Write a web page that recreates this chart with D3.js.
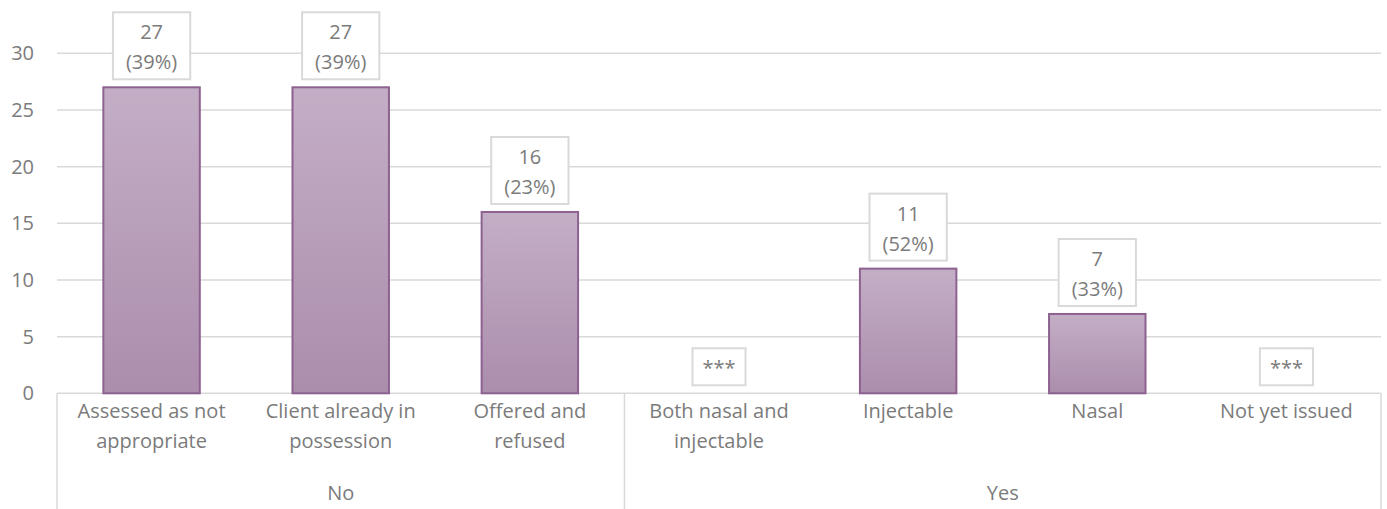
<!DOCTYPE html>
<html>
<head>
<meta charset="utf-8">
<script src="https://cdn.jsdelivr.net/npm/d3@7"></script>
<style>
  html, body { margin: 0; padding: 0; background: #ffffff; }
  svg { display: block; }
  text { font-family: "Open Sans", Lato, sans-serif; fill: #7b7b7b; }
</style>
</head>
<body>
<svg id="chart" width="1387" height="509"></svg>
<script>
// Naloxone issue outcome, grouped by whether naloxone was issued
const categories = [
  "Assessed as not appropriate",
  "Client already in possession",
  "Offered and refused",
  "Both nasal and injectable",
  "Injectable",
  "Nasal",
  "Not yet issued"
];
const groups = ["No", "No", "No", "Yes", "Yes", "Yes", "Yes"];
const counts = [27, 27, 16, 0, 11, 7, 0];
const percents = [39, 39, 23, null, 52, 33, null];
const suppressed = [false, false, false, true, false, false, true];
const yTicks = [0, 5, 10, 15, 20, 25, 30];

const svg = d3.select("#chart");
const fontSize = 20;
const lineH = 30;
const plotLeft = 57, plotRight = 1381;
const yZero = 393.3, yTop = 53.3;

const x = d3.scaleBand()
  .domain(categories)
  .range([plotLeft, plotRight])
  .paddingInner(0.49)
  .paddingOuter(0.245);

const y = d3.scaleLinear().domain([0, 30]).range([yZero, yTop]);

// gradient for the bars
const defs = svg.append("defs");
const grad = defs.append("linearGradient")
  .attr("id", "barFill").attr("x1", 0).attr("y1", 0).attr("x2", 0).attr("y2", 1);
grad.append("stop").attr("offset", "0%").attr("stop-color", "#c4aec6");
grad.append("stop").attr("offset", "100%").attr("stop-color", "#ab8dac");

// horizontal gridlines
svg.append("g").selectAll("line")
  .data(yTicks)
  .join("line")
  .attr("x1", plotLeft).attr("x2", plotRight)
  .attr("y1", d => y(d)).attr("y2", d => y(d))
  .attr("stroke", "#d9d9d9").attr("stroke-width", 1.5);

// y axis labels
const yAxis = svg.append("g")
  .attr("transform", `translate(${plotLeft - 12},0)`)
  .call(d3.axisLeft(y).tickValues(yTicks).tickSize(0).tickPadding(11));
yAxis.select(".domain").remove();
yAxis.selectAll("text")
  .attr("font-size", fontSize)
  .style("font-family", "'Open Sans', Lato, sans-serif")
  .attr("fill", "#7b7b7b");

// bars
svg.append("g").selectAll("rect")
  .data(counts.map((v, i) => ({ v, c: categories[i] })))
  .join("rect")
  .filter(d => d.v > 0)
  .attr("x", d => x(d.c))
  .attr("y", d => y(d.v))
  .attr("width", x.bandwidth())
  .attr("height", d => y(0) - y(d.v))
  .attr("fill", "url(#barFill)")
  .attr("stroke", "#8d6190")
  .attr("stroke-width", 2);

// value labels in boxes
const labels = svg.append("g");
counts.forEach((v, i) => {
  const lines = suppressed[i] ? ["***"] : [String(v), `(${percents[i]}%)`];
  const cx = x(categories[i]) + x.bandwidth() / 2;
  const boxH = lines.length * lineH + 7;
  const boxBottom = y(v) - 8;
  const boxTop = boxBottom - boxH;
  const g = labels.append("g");
  const rect = g.append("rect");
  const t = g.append("text")
    .attr("text-anchor", "middle")
    .attr("font-size", fontSize);
  lines.forEach((s, k) => {
    t.append("tspan").attr("x", cx).attr("y", boxTop + 27 + k * lineH).text(s);
  });
  const tw = t.node().getBBox().width;
  const w = tw + (lines.length > 1 ? 26 : 20);
  rect.attr("x", cx - w / 2).attr("y", boxTop)
    .attr("width", w).attr("height", boxH)
    .attr("fill", "#ffffff").attr("stroke", "#d9d9d9").attr("stroke-width", 2);
});

// category axis: wrapped labels
const catG = svg.append("g");
categories.forEach(c => {
  const cx = x(c) + x.bandwidth() / 2;
  const t = catG.append("text").attr("text-anchor", "middle").attr("font-size", fontSize);
  const words = c.split(" ");
  let lines = [], cur = [];
  const probe = catG.append("text").attr("font-size", fontSize);
  words.forEach(wd => {
    const trial = cur.concat(wd).join(" ");
    probe.text(trial);
    if (cur.length && probe.node().getComputedTextLength() > 168) {
      lines.push(cur.join(" "));
      cur = [wd];
    } else cur.push(wd);
  });
  lines.push(cur.join(" "));
  probe.remove();
  lines.forEach((s, k) => {
    t.append("tspan").attr("x", cx).attr("y", 418 + k * lineH).text(s);
  });
});

// group dividers and group labels
const groupNames = Array.from(new Set(groups));
const bounds = [plotLeft];
groupNames.forEach(gn => {
  const last = groups.lastIndexOf(gn);
  bounds.push(x(categories[last]) + x.bandwidth() / 2 + x.step() / 2);
});
svg.append("g").selectAll("line")
  .data(bounds)
  .join("line")
  .attr("x1", d => d).attr("x2", d => d)
  .attr("y1", yZero).attr("y2", 509)
  .attr("stroke", "#d9d9d9").attr("stroke-width", 1.5);

groupNames.forEach((gn, k) => {
  svg.append("text")
    .attr("x", (bounds[k] + bounds[k + 1]) / 2)
    .attr("y", 500)
    .attr("text-anchor", "middle")
    .attr("font-size", fontSize)
    .text(gn);
});
</script>
</body>
</html>
